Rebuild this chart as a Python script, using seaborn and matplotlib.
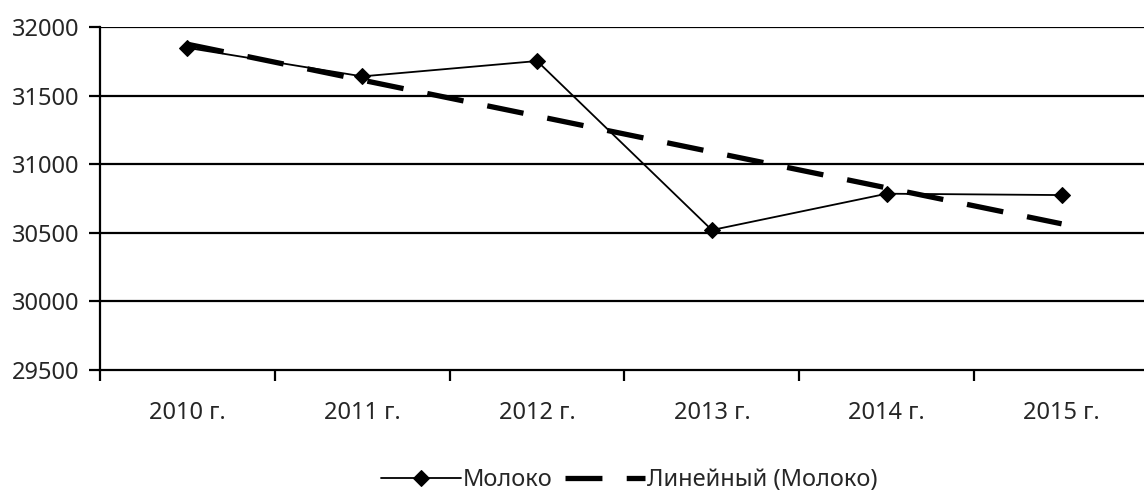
import matplotlib
matplotlib.use("Agg")
import matplotlib.pyplot as plt
import seaborn as sns
import numpy as np
import pandas as pd

# data
years = ["2010 г.", "2011 г.", "2012 г.", "2013 г.", "2014 г.", "2015 г."]
milk = [31848, 31640, 31752, 30520, 30785, 30775]
y_ticks = [29500, 30000, 30500, 31000, 31500, 32000]

series_name = "Молоко"
trend_name = "Линейный (Молоко)"

df = pd.DataFrame({"pos": np.arange(len(years)), "year": years, "value": milk})

sns.set_style("white")
plt.rcParams["font.family"] = ["Noto Sans", "DejaVu Sans"]
fs = 17

fig = plt.figure(figsize=(11.44, 4.9), dpi=100)
ax = fig.add_axes([100 / 1144, 1 - 370 / 490, 1049 / 1144, (370 - 27) / 490])

# horizontal gridlines
for v in y_ticks[1:]:
    ax.axhline(v, color="black", lw=1.6, zorder=1)

sns.lineplot(data=df, x="pos", y="value", ax=ax, color="black", lw=1.3,
             marker="D", markersize=8.5, markeredgecolor="black", zorder=3,
             label=series_name, legend=False)

# linear trend line
sns.regplot(data=df, x="pos", y="value", ax=ax, scatter=False, ci=None,
            truncate=True,
            line_kws=dict(color="black", lw=3.8, linestyle=(0, (7, 4.6)),
                          zorder=2))
ax.lines[-1].set_label(trend_name)

ax.set_xlim(-0.5, len(years) - 0.5)
ax.set_ylim(y_ticks[0], y_ticks[-1])
ax.set_yticks(y_ticks)
ax.set_yticklabels([str(v) for v in y_ticks], fontsize=fs)
ax.set_xticks(np.arange(len(years) + 1) - 0.5)
ax.set_xticklabels([])
ax.set_xticks(np.arange(len(years)), minor=True)
ax.set_xticklabels(years, minor=True, fontsize=fs)
ax.tick_params(axis="x", which="major", direction="out", length=8, width=1.6,
               color="black", bottom=True)
ax.tick_params(axis="x", which="minor", length=0, pad=22)
ax.tick_params(axis="y", direction="out", length=8, width=1.6, color="black",
               left=True, pad=7)
ax.set_xlabel("")
ax.set_ylabel("")

for side in ["top", "right"]:
    ax.spines[side].set_visible(False)
for side in ["left", "bottom"]:
    ax.spines[side].set_color("black")
    ax.spines[side].set_linewidth(1.6)
    ax.spines[side].set_zorder(4)

handles, labels = ax.get_legend_handles_labels()
fig.legend(handles, labels, loc="center", bbox_to_anchor=(0.55, 0.02),
           ncol=2, frameon=False, fontsize=fs, handlelength=3.4,
           handletextpad=0.1, columnspacing=0.5)

fig.savefig("out.png", dpi=100)
